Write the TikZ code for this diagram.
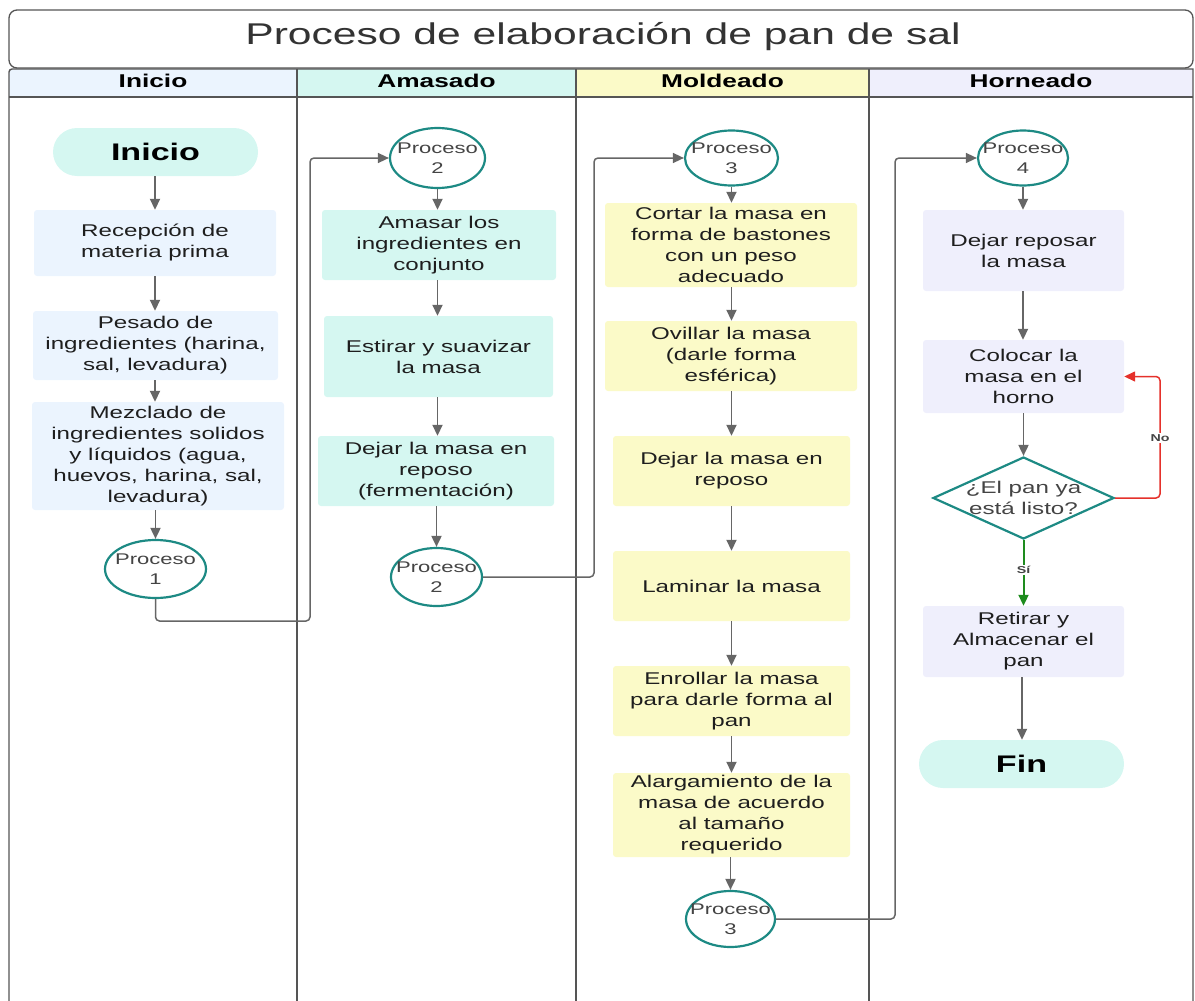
\documentclass[tikz,border=0pt]{standalone}
\usepackage{fontspec}
\setmainfont{Liberation Sans}[FakeStretch=1.42]
\usetikzlibrary{arrows.meta,shapes.geometric}
\definecolor{txt}{HTML}{1E1E1E}
\definecolor{ptxt}{HTML}{444444}
\definecolor{lblue}{HTML}{EBF4FE}
\definecolor{lteal}{HTML}{D5F7F1}
\definecolor{lyel}{HTML}{FBFAC8}
\definecolor{llav}{HTML}{EFEFFC}
\definecolor{tealb}{HTML}{1D8A84}
\definecolor{conng}{HTML}{666666}
\definecolor{lanel}{HTML}{555555}
\definecolor{redc}{HTML}{E5312B}
\definecolor{greenc}{HTML}{1E8C1E}
\newcommand\fz[2]{\fontsize{#1pt}{#2pt}\selectfont}
\tikzset{
  boxtext/.style={rectangle, rounded corners=3pt, align=center, inner sep=0pt, text=txt, font=\fz{17}{21}},
  bblue/.style={boxtext, fill=lblue},
  bteal/.style={boxtext, fill=lteal},
  byel/.style={boxtext, fill=lyel},
  blav/.style={boxtext, fill=llav},
  term/.style={rectangle, rounded corners=24pt, fill=lteal, inner sep=0pt, minimum width=205pt, minimum height=48pt, font=\fz{24}{28}\bfseries, text=black},
  proc/.style={ellipse, draw=tealb, line width=2.2pt, fill=white, inner sep=0pt},
  proctext/.style={align=center, text=ptxt, font=\fz{15.5}{20}, inner sep=0pt},
  conn/.style={draw=conng, line width=1.8pt, -{Triangle[length=11pt,width=10pt]}},
  route/.style={draw=conng, line width=1.5pt, rounded corners=4pt, -{Triangle[length=11pt,width=10pt]}},
  lane/.style={draw=lanel, line width=1.4pt},
  hdr/.style={font=\fz{18.5}{20}\bfseries, text=black},
  lbl/.style={font=\fz{10}{12}\bfseries, text=ptxt, fill=white, inner sep=1.5pt},
}
\begin{document}
\begin{tikzpicture}[x=1pt,y=-1pt]
\useasboundingbox (0,0) rectangle (1195,1001);
% header fills
\fill[lblue] (9,69) rectangle (297,97);
\fill[lteal] (297,69) rectangle (576,97);
\fill[lyel] (576,69) rectangle (869,97);
\fill[llav] (869,69) rectangle (1193,97);
% lanes
\draw[lane] (9,1001) -- (9,72) arc[start angle=180,end angle=90,radius=3pt] -- (1193,69) -- (1193,1001);
\draw[lane] (9,97) -- (1193,97);
\draw[lane] (297,69) -- (297,1001);
\draw[lane] (576,69) -- (576,1001);
\draw[lane] (869,69) -- (869,1001);
% title
\node[draw=lanel, line width=1.3pt, rounded corners=8pt, minimum width=1184pt, minimum height=58pt, inner sep=0pt, fill=white] (title) at (601,39) {};
\node[font=\fz{30}{34}, text=black!80] (titletext) at (603,37) {Proceso de elaboración de pan de sal};
% headers
\node[hdr] (h-ini) at (153,81) {Inicio};
\node[hdr] (h-ama) at (436.5,81) {Amasado};
\node[hdr] (h-mol) at (722.5,81) {Moldeado};
\node[hdr] (h-hor) at (1031,81) {Horneado};

% Lane 1
\node[term] (ini) at (155.5,152) {Inicio};
\node[bblue, minimum width=242pt, minimum height=66pt] (r1) at (155,243) {Recepción de\\materia prima};
\node[bblue, minimum width=245pt, minimum height=69pt] (r2) at (155.5,345.5) {Pesado de\\ingredientes (harina,\\sal, levadura)};
\node[bblue, minimum width=252pt, minimum height=108pt] (r3) at (158,456) {Mezclado de\\ingredientes solidos\\y líquidos (agua,\\huevos, harina, sal,\\levadura)};
\node[proc, minimum width=101pt, minimum height=58pt, label={[proctext]center:Proceso\\1}] (p1) at (155.5,569) {};

% Lane 2
\node[proc, minimum width=95pt, minimum height=60pt, label={[proctext]center:Proceso\\2}] (p2a) at (437.5,158) {};
\node[bteal, minimum width=234pt, minimum height=70pt] (a1) at (439,245) {Amasar los\\ingredientes en\\conjunto};
\node[bteal, minimum width=229pt, minimum height=81pt] (a2) at (438.5,356.5) {Estirar y suavizar\\la masa};
\node[bteal, minimum width=236pt, minimum height=70pt] (a3) at (436,471) {Dejar la masa en\\reposo\\(fermentación)};
\node[proc, minimum width=91pt, minimum height=58pt, label={[proctext]center:Proceso\\2}] (p2b) at (436.5,577) {};

% Lane 3
\node[proc, minimum width=93pt, minimum height=55pt, label={[proctext]center:Proceso\\3}] (p3a) at (731.5,158) {};
\node[byel, minimum width=252pt, minimum height=84pt] (m1) at (731,245) {Cortar la masa en\\forma de bastones\\con un peso\\adecuado};
\node[byel, minimum width=252pt, minimum height=70pt] (m2) at (731,356) {Ovillar la masa\\(darle forma\\esférica)};
\node[byel, minimum width=237pt, minimum height=70pt] (m3) at (731.5,471) {Dejar la masa en\\reposo};
\node[byel, minimum width=237pt, minimum height=70pt] (m4) at (731.5,586) {Laminar la masa};
\node[byel, minimum width=237pt, minimum height=70pt] (m5) at (731.5,701) {Enrollar la masa\\para darle forma al\\pan};
\node[byel, minimum width=237pt, minimum height=84pt] (m6) at (731.5,815) {Alargamiento de la\\masa de acuerdo\\al tamaño\\requerido};
\node[proc, minimum width=89pt, minimum height=56pt, label={[proctext]center:Proceso\\3}] (p3b) at (730.5,919) {};

% Lane 4
\node[proc, minimum width=90pt, minimum height=55pt, label={[proctext]center:Proceso\\4}] (p4) at (1023,158) {};
\node[blav, minimum width=201pt, minimum height=81pt] (q1) at (1023.5,250.5) {Dejar reposar\\la masa};
\node[blav, minimum width=201pt, minimum height=73pt] (q2) at (1023.5,376.5) {Colocar la\\masa en el\\horno};
\node[diamond, draw=tealb, line width=2.2pt, fill=white, inner sep=0pt, minimum width=181pt, minimum height=82pt,
      label={[align=center, text=ptxt, font=\fz{17}{21}, inner sep=0pt]center:¿El pan ya\\está listo?}] (dec) at (1023.5,498) {};
\node[blav, minimum width=201pt, minimum height=71pt] (q3) at (1023.5,641.5) {Retirar y\\Almacenar el\\pan};
\node[term] (fin) at (1021.5,764) {Fin};

% vertical arrows
\draw[conn] (ini.south -| 155,0) -- (r1.north -| 155,0);
\draw[conn] (r1.south -| 155,0) -- (r2.north -| 155,0);
\draw[conn] (r2.south -| 155,0) -- (r3.north -| 155,0);
\draw[conn] (p1.north |- r3.south) -- (p1.north);
\draw[conn] (p2a.south) -- (p2a.south |- a1.north);
\draw[conn] (p2a.south |- a1.south) -- (p2a.south |- a2.north);
\draw[conn] (p2a.south |- a2.south) -- (p2a.south |- a3.north);
\draw[conn] (p2b.north |- a3.south) -- (p2b.north);
\draw[conn] (p3a.south) -- (p3a.south |- m1.north);
\draw[conn] (p3a.south |- m1.south) -- (p3a.south |- m2.north);
\draw[conn] (p3a.south |- m2.south) -- (p3a.south |- m3.north);
\draw[conn] (p3a.south |- m3.south) -- (p3a.south |- m4.north);
\draw[conn] (p3a.south |- m4.south) -- (p3a.south |- m5.north);
\draw[conn] (p3a.south |- m5.south) -- (p3a.south |- m6.north);
\draw[conn] (p3b.north |- m6.south) -- (p3b.north);
\draw[conn] (p4.south) -- (p4.south |- q1.north);
\draw[conn] (p4.south |- q1.south) -- (p4.south |- q2.north);
\draw[conn] (dec.north |- q2.south) -- (dec.north);
\draw[conn] (q3.south -| 1022,0) -- (fin.north -| 1022,0);

% routed connectors between lanes
\coordinate (c1) at (310,621);
\coordinate (c2) at (594,577);
\coordinate (c3) at (895,919);
\draw[route] (p1.south) |- (c1) |- (p2a.west);
\draw[route] (p2b.east) -- (c2) |- (p3a.west);
\draw[route] (p3b.east) -- (c3) |- (p4.west);

% decision branches
\coordinate (cno) at (1160,498);
\draw[draw=redc, line width=1.5pt, rounded corners=4pt, -{Triangle[length=11pt,width=10pt]}] (dec.east) -- (cno) |- (q2.east);
\node[lbl] (nolbl) at (1160,438) {No};
\draw[draw=greenc, line width=2pt, -{Triangle[length=11pt,width=10pt]}] (dec.south) -- (q3.north);
\node[lbl] (silbl) at (1023.5,570) {Sí};
\end{tikzpicture}
\end{document}
